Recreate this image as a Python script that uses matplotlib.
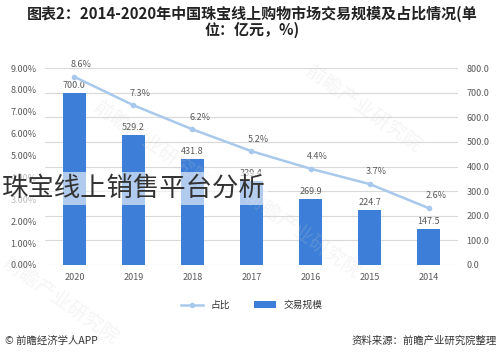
import matplotlib
matplotlib.use('Agg')
from matplotlib import pyplot as plt
from matplotlib.ticker import FuncFormatter

plt.rcParams['font.family'] = ['Noto Sans CJK SC', 'DejaVu Sans']

# 数据（年份从左到右倒序，和原图一致）
years = ['2020', '2019', '2018', '2017', '2016', '2015', '2014']
trade_scale = [700.0, 529.2, 431.8, 339.4, 269.9, 224.7, 147.5]   # 亿元
share = [8.6, 7.3, 6.2, 5.2, 4.4, 3.7, 2.6]                       # %

bar_color = '#3d7fd8'
line_color = '#a9c9ec'
tick_color = '#595959'
grid_color = '#d9d9d9'

fig = plt.figure(figsize=(5.04, 3.62), dpi=100)
ax = fig.add_axes([0.089, 0.268, 0.82, 0.544])
ax2 = ax.twinx()

x = list(range(len(years)))

# 柱状图：交易规模（右轴）
bars = ax.bar(x, trade_scale, width=0.4, color=bar_color, zorder=2, label='交易规模')
ax.set_ylim(0, 800)
ax.set_yticks(range(0, 801, 100))
ax.yaxis.tick_right()
ax.yaxis.set_major_formatter(FuncFormatter(lambda v, p: '%.1f' % v))
ax.set_xlim(-0.5, len(years) - 0.5)
ax.set_xticks(x)
ax.set_xticklabels(years)
ax.grid(axis='y', color=grid_color, linewidth=0.8, zorder=0)
for i, v in enumerate(trade_scale):
    ax.text(i, v + 12, '%.1f' % v, ha='center', va='bottom', fontsize=6.5, color=tick_color)

# 折线：占比（左轴）
line, = ax2.plot(x, share, color=line_color, linewidth=1.8, marker='o', markersize=3,
                 zorder=3, label='占比')
ax2.set_ylim(0, 9)
ax2.set_yticks(range(0, 10))
ax2.yaxis.tick_left()
ax2.yaxis.set_major_formatter(FuncFormatter(lambda v, p: '%.2f%%' % v))
for i, v in enumerate(share):
    ax2.text(i + 0.12, v + 0.35, '%.1f%%' % v, ha='center', va='bottom', fontsize=6.5, color=tick_color)

for a in (ax, ax2):
    for s in a.spines.values():
        s.set_visible(False)
    a.tick_params(length=0, labelsize=6.5, colors=tick_color, pad=6)

# 标题
fig.text(0.5, 0.962, '图表2：2014-2020年中国珠宝线上购物市场交易规模及占比情况(单', ha='center', va='center',
         fontsize=10.8, fontweight='bold', color='#222222')
fig.text(0.5, 0.918, '位：亿元，%)', ha='center', va='center',
         fontsize=10.8, fontweight='bold', color='#222222')

# 图例
fig.legend(handles=[line, bars], labels=['占比', '交易规模'], loc='center', bbox_to_anchor=(0.5, 0.157),
           ncol=2, frameon=False, fontsize=7, handlelength=2.2, columnspacing=2.5,
           labelcolor='#333333')

# 底部来源
fig.text(0.01, 0.058, '© 前瞻经济学人APP', ha='left', va='center', fontsize=7.5, color='#333333')
fig.text(0.985, 0.058, '资料来源：前瞻产业研究院整理', ha='right', va='center', fontsize=7.5, color='#333333')

# 水印
for wx, wy in [(0.3, 0.6), (0.72, 0.7), (0.6, 0.35), (0.12, 0.17)]:
    fig.text(wx, wy, '前瞻产业研究院', rotation=-35, fontsize=14, color='#cccccc', alpha=0.2,
             ha='center', va='center')

# 叠加文字
fig.text(0.003, 0.48, '珠宝线上销售平台分析', ha='left', va='center', fontsize=19, color='#333333',
         zorder=10, bbox=dict(facecolor='white', alpha=0.6, edgecolor='none', pad=2))

fig.savefig('out.png', dpi=100)
